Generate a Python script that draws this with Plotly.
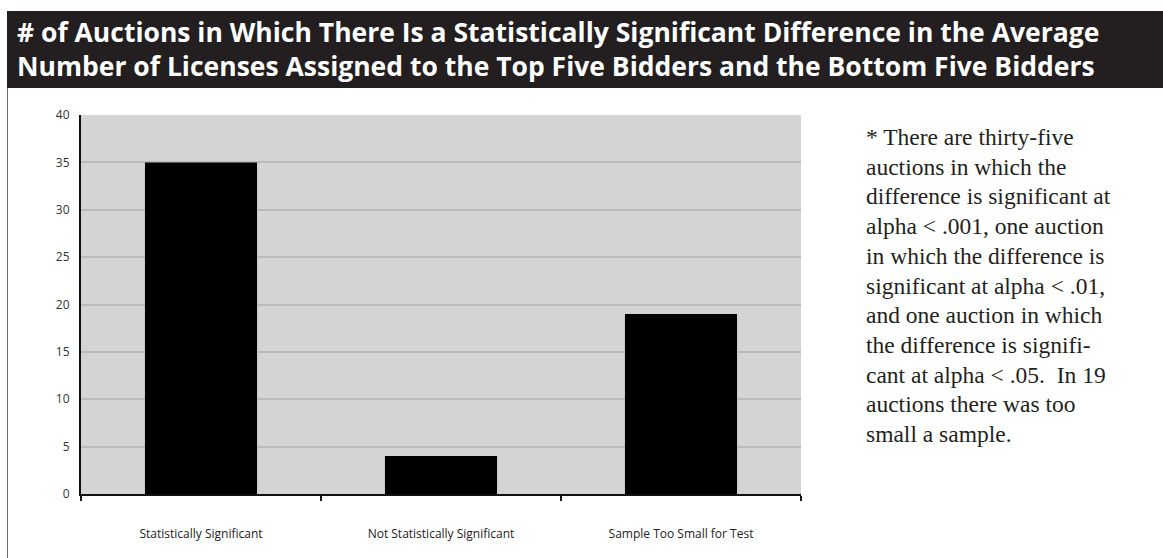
import plotly.graph_objects as go

categories = ["Statistically Significant", "Not Statistically Significant", "Sample Too Small for Test"]
auction_counts = [35, 4, 19]

title_lines = [
    "# of Auctions in Which There Is a Statistically Significant Difference in the Average",
    "Number of Licenses Assigned to the Top Five Bidders and the Bottom Five Bidders",
]

note_lines = [
    "* There are thirty-five",
    "auctions in which the",
    "difference is significant at",
    "alpha < .001, one auction",
    "in which the difference is",
    "significant at alpha < .01,",
    "and one auction in which",
    "the difference is signifi-",
    "cant at alpha < .05.  In 19",
    "auctions there was too",
    "small a sample.",
]

W, H = 1163, 558
L, R, T, B = 81, 801, 115, 494  # plot area in pixels
pw, ph = R - L, B - T


def px_x(p):
    return (p - L) / pw


def px_y(p):
    return (B - p) / ph


fig = go.Figure(
    go.Bar(
        x=categories,
        y=auction_counts,
        marker=dict(color="#000000", line=dict(width=0)),
        width=0.467,
    )
)

shapes = [
    # dark title banner
    dict(type="rect", xref="paper", yref="paper",
         x0=px_x(7), x1=px_x(1163), y0=px_y(88), y1=px_y(11),
         fillcolor="#231f20", line=dict(width=0), layer="above"),
    # left border of the panel
    dict(type="line", xref="paper", yref="paper",
         x0=px_x(7.5), x1=px_x(7.5), y0=px_y(88), y1=px_y(558),
         line=dict(color="#6d6d6d", width=1)),
]

annotations = []
for i, line in enumerate(title_lines):
    annotations.append(dict(
        text="<b>" + line + "</b>", xref="paper", yref="paper",
        x=px_x(15), y=px_y(32 + 34 * i), xanchor="left", yanchor="middle",
        showarrow=False, font=dict(family="Open Sans", size=26.5, color="#ffffff"),
    ))

for i, line in enumerate(note_lines):
    annotations.append(dict(
        text=line.replace("<", "&lt;"), xref="paper", yref="paper",
        x=px_x(864), y=px_y(137 + 29.7 * i), xanchor="left", yanchor="middle",
        showarrow=False, font=dict(family="Liberation Serif", size=23.5, color="#231f20"),
    ))

fig.update_layout(
    width=W, height=H,
    margin=dict(l=L, r=W - R, t=T, b=H - B, pad=0),
    paper_bgcolor="#ffffff",
    plot_bgcolor="#d4d4d4",
    showlegend=False,
    bargap=0.533,
    shapes=shapes,
    annotations=annotations,
    font=dict(family="Open Sans", color="#333333"),
)

fig.update_xaxes(
    type="category",
    showline=True, linecolor="#111111", linewidth=2,
    ticks="outside", tickson="boundaries", ticklen=5, tickwidth=2, tickcolor="#111111",
    ticklabelstandoff=28,
    tickfont=dict(family="Open Sans", size=12, color="#222222"),
    showgrid=False,
)

fig.update_yaxes(
    range=[0, 40], dtick=5,
    showline=True, linecolor="#111111", linewidth=2,
    ticks="", ticklabelstandoff=7,
    tickfont=dict(family="Open Sans", size=12, color="#333333"),
    showgrid=True, gridcolor="#bababa", gridwidth=2,
    zeroline=False,
)

fig.write_html("out.html")
